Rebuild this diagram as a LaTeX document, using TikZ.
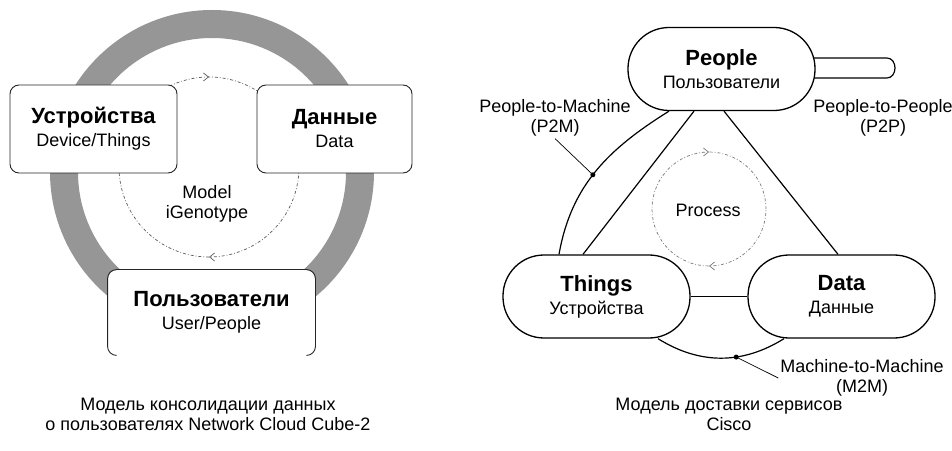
\documentclass[tikz,border=0pt]{standalone}
\usepackage{fontspec}
\setmainfont{Liberation Sans}
\usetikzlibrary{arrows.meta,decorations.markings,calc}
\definecolor{ringgray}{RGB}{150,150,150}
\definecolor{dashgray}{RGB}{90,90,90}
\definecolor{procgray}{RGB}{120,120,120}
\begin{document}
\begin{tikzpicture}[x=1pt,y=1pt,
  lbox/.style={draw=black!85, line width=0.9pt, fill=white, rounded corners=9pt,
    minimum height=88pt, inner sep=0pt, align=center, font=\fontsize{18}{23}\selectfont},
  stad/.style={draw=black, line width=1.3pt, fill=white, rounded corners=41pt,
    minimum width=187pt, minimum height=83pt, inner sep=0pt, align=center,
    font=\fontsize{18}{23}\selectfont},
  reg/.style={font=\fontsize{18}{20}\selectfont, align=center, inner sep=2pt},
  conn/.style={line width=1.2pt},
  leader/.style={line width=0.7pt},
  dotc/.style={circle, fill=black, inner sep=0pt, minimum size=5pt},
  ringstyle/.style={draw=ringgray, line width=28pt},
  cyc/.style={line width=0.7pt, dash pattern=on 3pt off 2pt on 0.8pt off 2pt,
    postaction={decorate}, decoration={markings,
      mark=at position 0.25 with {\arrowreversed[solid]{Straight Barb[length=5pt,width=8pt]}},
      mark=at position 0.75 with {\arrowreversed[solid]{Straight Barb[length=5pt,width=8pt]}}}}
]
\newcommand\bt[1]{{\fontsize{22}{23}\bfseries #1}}
\useasboundingbox (0,0) rectangle (952,450);

% ---------- left diagram ----------
\coordinate (ringc) at (212,278);
\draw[ringstyle] (ringc) circle[radius=148pt];
\coordinate (modc) at (209,283);
\draw[cyc, draw=dashgray] (modc) circle[radius=90pt];
\node[reg] (model) at (207,246) {Model\\iGenotype};

\node[lbox, minimum width=167pt] (dev) at (93.5,321) {\bt{Устройства}\\Device/Things};
\node[lbox, minimum width=155pt] (dat) at (334.5,321) {\bt{Данные}\\Data};
\node[lbox, minimum width=207pt, minimum height=85pt, draw=none] (usr) at (211.5,137.5) {\bt{Пользователи}\\User/People};
\draw[draw=black!85, line width=0.9pt, rounded corners=9pt]
  ($(usr.south west)+(9,0)$) -- (usr.south west) -- (usr.north west)
  -- (usr.north east) -- (usr.south east) -- ($(usr.south east)+(-9,0)$);

\node[reg] (capl) at (208,36) {Модель консолидации данных\\о пользователях Network Cloud Cube-2};

% ---------- right diagram ----------
\coordinate (procc) at (709,241);
\draw[cyc, draw=procgray] (procc) circle[radius=57pt];
\node[reg] (proc) at (708,240) {Process};

\node[stad] (P) at (721.5,381) {\bt{People}\\Пользователи};
\node[stad] (T) at (596.5,153.5) {\bt{Things}\\Устройства};
\node[stad] (D) at (841.5,153.5) {\bt{Data}\\Данные};

\coordinate (tailA) at (814,392);
\coordinate (tailB) at (814,372);
\draw[conn] (tailA) -- ++(73,0) to[out=0,in=90] ++(8,-10) to[out=-90,in=0] ++(-8,-10) -- (tailB);

\draw[conn] ($(P.south)+(-27.5,0)$) -- ($(T.north)+(-13.5,0)$);
\draw[conn] ($(P.south)+(2.5,0)$) -- ($(D.north)+(-3.5,0)$);
\draw[conn] (T.east) -- (D.west);

\draw[conn] ($(P.south)+(-52.5,0)$) to[out=212,in=80] node[pos=0.53, dotc] (p2mdot) {} ($(T.north)+(-37.5,0)$);
\draw[conn] ($(T.south)+(61.5,0)$) to[bend right=32] node[pos=0.62, dotc] (m2mdot) {} ($(D.south)+(-57.5,0)$);

\node[reg] (p2m) at (555,332) {People-to-Machine\\(P2M)};
\node[reg] (p2p) at (883,332) {People-to-People\\(P2P)};
\node[reg] (m2m) at (862,72) {Machine-to-Machine\\(M2M)};
\draw[leader] (p2m.south) -- (p2mdot.center);
\draw[leader] (m2mdot.center) -- (m2m.west);

\node[reg] (capr) at (729,36) {Модель доставки сервисов\\Cisco};
\end{tikzpicture}
\end{document}
